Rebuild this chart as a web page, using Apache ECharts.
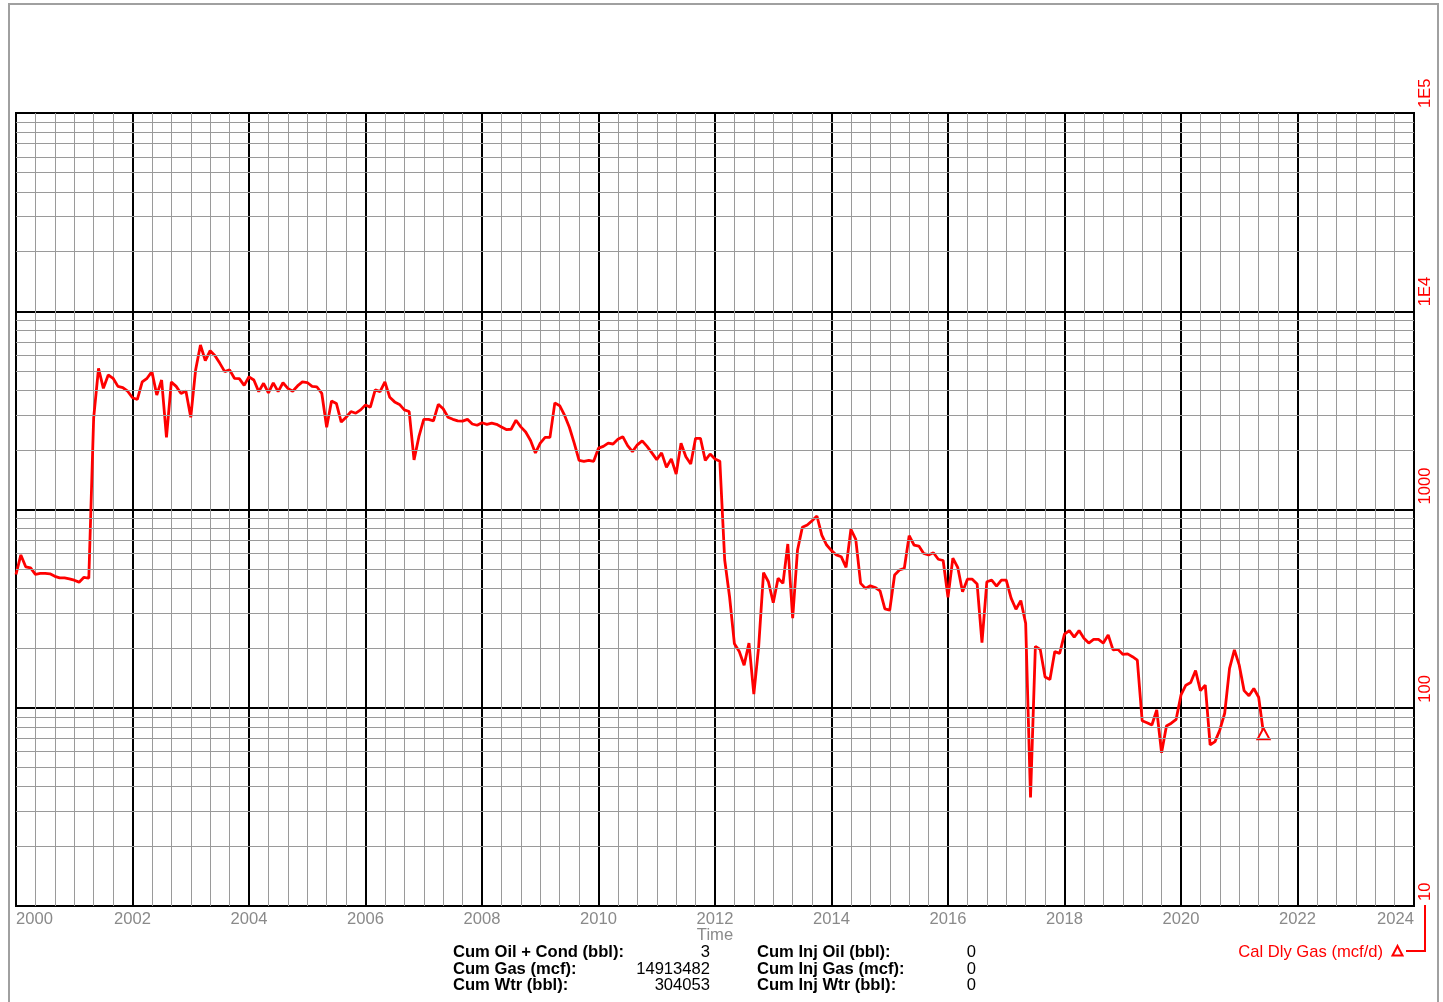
<!DOCTYPE html>
<html>
<head>
<meta charset="utf-8">
<title>Cal Dly Gas</title>
<script src="https://cdn.jsdelivr.net/npm/echarts@6/dist/echarts.min.js"></script>
<style>
  html, body { margin: 0; padding: 0; background: #ffffff; }
  #chart { width: 1443px; height: 1002px; }
</style>
</head>
<body>
<div id="chart"></div>
<script>
// Calendar-day gas rate (mcf/d), one value per month, January to December
var gas2000 = [470, 590, 514, 508, 471, 476, 476, 474, 460, 452, 452, 447];
var gas2001 = [440, 430, 455, 450, 2900, 5150, 4085, 4770, 4590, 4180, 4120, 3950];
var gas2002 = [3660, 3590, 4400, 4590, 4960, 3780, 4500, 2313, 4400, 4180, 3850, 3960];
var gas2003 = [2920, 5060, 6760, 5630, 6330, 5960, 5460, 4960, 5060, 4590, 4570, 4230];
var gas2004 = [4670, 4500, 3930, 4330, 3880, 4350, 3930, 4360, 4085, 3950, 4200, 4400];
var gas2005 = [4370, 4180, 4150, 3850, 2600, 3530, 3430, 2760, 2920, 3120, 3060, 3180];
var gas2006 = [3370, 3280, 4010, 3930, 4400, 3680, 3490, 3390, 3180, 3120, 1780, 2330];
var gas2007 = [2850, 2850, 2800, 3390, 3220, 2920, 2850, 2800, 2790, 2850, 2700, 2660];
var gas2008 = [2740, 2690, 2730, 2690, 2610, 2530, 2540, 2820, 2610, 2460, 2230, 1930];
var gas2009 = [2160, 2310, 2310, 3450, 3340, 2990, 2600, 2160, 1770, 1750, 1770, 1750];
var gas2010 = [2040, 2080, 2160, 2140, 2260, 2330, 2100, 1960, 2120, 2220, 2080, 1930];
var gas2011 = [1785, 1930, 1633, 1800, 1510, 2160, 1847, 1697, 2286, 2286, 1770, 1905];
var gas2012 = [1800, 1750, 556, 363, 210, 192, 164, 212, 117, 204, 480, 432];
var gas2013 = [339, 450, 424, 670, 283, 625, 813, 835, 878, 927, 743, 662];
var gas2014 = [620, 590, 578, 511, 795, 707, 424, 400, 412, 404, 389, 315];
var gas2015 = [311, 467, 495, 505, 738, 662, 654, 600, 590, 605, 561, 553];
var gas2016 = [361, 568, 511, 385, 445, 445, 421, 213, 432, 440, 411, 440];
var gas2017 = [440, 357, 314, 347, 267, 35.3, 204, 197, 143, 139, 192, 188];
var gas2018 = [235, 245, 227, 245, 224, 212, 221, 221, 212, 233, 196, 197];
var gas2019 = [186, 187, 181, 174, 86, 84, 81.8, 97.4, 59.3, 80.9, 83.6, 87.4];
var gas2020 = [116, 130, 134, 154, 122, 130, 64.9, 67.5, 77.3, 93.8, 158, 196];
var gas2021 = [164, 122, 115, 125, 113, 74];

var years = [2000, 2001, 2002, 2003, 2004, 2005, 2006, 2007, 2008, 2009, 2010,
             2011, 2012, 2013, 2014, 2015, 2016, 2017, 2018, 2019, 2020, 2021];
var yearly = [gas2000, gas2001, gas2002, gas2003, gas2004, gas2005, gas2006, gas2007,
              gas2008, gas2009, gas2010, gas2011, gas2012, gas2013, gas2014, gas2015,
              gas2016, gas2017, gas2018, gas2019, gas2020, gas2021];

// Axis ticks
var timeTicks = [2000, 2002, 2004, 2006, 2008, 2010, 2012, 2014, 2016, 2018, 2020, 2022, 2024];
var rateTicks = [10, 100, 1000, 10000, 100000];
var rateMinorSteps = [2, 3, 4, 5, 6, 7, 8, 9];

// Cumulative totals shown under the plot
var cumLabels = ['Cum Oil + Cond (bbl):', 'Cum Gas (mcf):', 'Cum Wtr (bbl):'];
var cumValues = ['3', '14913482', '304053'];
var injLabels = ['Cum Inj Oil (bbl):', 'Cum Inj Gas (mcf):', 'Cum Inj Wtr (bbl):'];
var injValues = ['0', '0', '0'];

var RED = '#ff0000';
var FONT = '"Liberation Sans", Arial, sans-serif';
var FS = 16.6;

// Monthly points on a decimal-year axis
var points = [];
years.forEach(function (yr, k) {
  yearly[k].forEach(function (v, m) {
    points.push([yr + m / 12, v]);
  });
});
var last = points[points.length - 1];
points[points.length - 1] = {
  value: last,
  symbol: 'triangle',
  symbolSize: [12, 11],
  itemStyle: { color: '#ffffff', borderColor: RED, borderWidth: 2 }
};

// Log minor grid levels (2..9 within each decade)
var minorLevels = [];
for (var d = 0; d < rateTicks.length - 1; d++) {
  rateMinorSteps.forEach(function (s) { minorLevels.push({ yAxis: rateTicks[d] * s }); });
}

// Frame and bottom summary block
var graphics = [
  { type: 'rect', silent: true, shape: { x: 9, y: 4, width: 1429, height: 1010 },
    style: { fill: 'none', stroke: '#a0a0a0', lineWidth: 2 } }
];
var rowY = [952.5, 969, 985.5];
rowY.forEach(function (y, i) {
  graphics.push({ type: 'text', x: 453, y: y, silent: true,
    style: { text: cumLabels[i], font: 'bold ' + FS + 'px ' + FONT, fill: '#000', textAlign: 'left', textVerticalAlign: 'middle' } });
  graphics.push({ type: 'text', x: 710, y: y, silent: true,
    style: { text: cumValues[i], font: FS + 'px ' + FONT, fill: '#000', textAlign: 'right', textVerticalAlign: 'middle' } });
  graphics.push({ type: 'text', x: 757, y: y, silent: true,
    style: { text: injLabels[i], font: 'bold ' + FS + 'px ' + FONT, fill: '#000', textAlign: 'left', textVerticalAlign: 'middle' } });
  graphics.push({ type: 'text', x: 976, y: y, silent: true,
    style: { text: injValues[i], font: FS + 'px ' + FONT, fill: '#000', textAlign: 'right', textVerticalAlign: 'middle' } });
});
// Series key with bracket to the rate axis
graphics.push({ type: 'text', x: 1383, y: 952, silent: true,
  style: { text: 'Cal Dly Gas (mcf/d)', font: FS + 'px ' + FONT, fill: RED, textAlign: 'right', textVerticalAlign: 'middle' } });
graphics.push({ type: 'polygon', silent: true,
  shape: { points: [[1397.5, 946], [1392.5, 955.5], [1402.5, 955.5]] },
  style: { fill: 'none', stroke: RED, lineWidth: 2 } });
graphics.push({ type: 'polyline', silent: true,
  shape: { points: [[1406, 951], [1425, 951], [1425, 905]] },
  style: { fill: 'none', stroke: RED, lineWidth: 2 } });

var chart = echarts.init(document.getElementById('chart'), null, { renderer: 'canvas' });
chart.setOption({
  animation: false,
  backgroundColor: '#ffffff',
  grid: { left: 16, top: 113, width: 1398, height: 793, show: true,
          borderColor: '#000000', borderWidth: 2, backgroundColor: '#ffffff' },
  xAxis: {
    type: 'value',
    min: timeTicks[0], max: timeTicks[timeTicks.length - 1], interval: 2,
    name: 'Time', nameLocation: 'middle', nameGap: 29, nameMoveOverlap: false,
    nameTextStyle: { color: '#8a8a8a', fontSize: FS, fontFamily: FONT, verticalAlign: 'middle' },
    axisLine: { show: false }, axisTick: { show: false },
    axisLabel: { color: '#8a8a8a', fontSize: FS, fontFamily: FONT, margin: 5,
                 alignMinLabel: 'left', alignMaxLabel: 'right',
                 formatter: function (v) { return String(Math.round(v)); } },
    splitLine: { show: true, lineStyle: { color: '#000000', width: 2 } },
    minorTick: { show: false, splitNumber: 6 },
    minorSplitLine: { show: true, lineStyle: { color: '#9a9a9a', width: 1 } }
  },
  yAxis: {
    type: 'log', logBase: 10, position: 'right',
    min: rateTicks[0], max: rateTicks[rateTicks.length - 1],
    axisLine: { show: false }, axisTick: { show: false },
    axisLabel: {
      color: RED, fontSize: FS, fontFamily: FONT, rotate: 90, margin: 11,
      align: 'left', verticalAlign: 'middle', padding: [0, 0, 0, 5],
      formatter: function (v) {
        return v >= 10000 ? '1E' + Math.round(Math.log10(v)) : String(Math.round(v));
      }
    },
    splitLine: { show: true, lineStyle: { color: '#000000', width: 2 } }
  },
  series: [
    {
      type: 'line', data: [], silent: true, z: 1,
      markLine: {
        silent: true, animation: false, symbol: ['none', 'none'],
        label: { show: false },
        lineStyle: { color: '#9a9a9a', width: 1, type: 'solid' },
        emphasis: { disabled: true },
        data: minorLevels
      }
    },
    {
      name: 'Cal Dly Gas (mcf/d)', type: 'line', data: points, z: 3,
      symbol: 'none', showSymbol: true,
      lineStyle: { color: RED, width: 2.8 },
      itemStyle: { color: RED }
    }
  ],
  graphic: graphics
});
</script>
</body>
</html>
